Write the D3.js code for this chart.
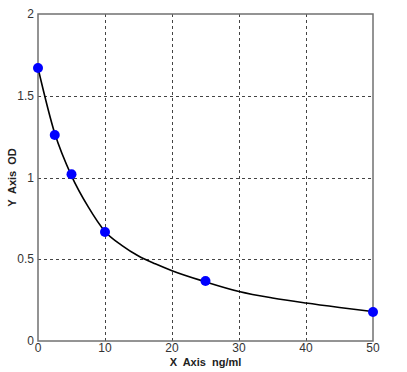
<!DOCTYPE html>
<html lang="en">
<head>
    <meta charset="UTF-8">
    <title>Standard Curve</title>
    <script src="https://d3js.org/d3.v7.min.js"></script>
    <style>
        body { margin: 0; background: #fff; }
        #canvas { display: block; }
        .tick-label { font-family: "Liberation Sans", Arial, sans-serif; font-size: 12px; fill: #333; }
        .axis-title { font-family: "Liberation Sans", Arial, sans-serif; font-size: 11px; font-weight: bold; fill: #222; }
    </style>
</head>
<body>
<svg id="canvas" width="407" height="372"></svg>
<script>
    // measured standards
    let conc = [0, 2.5, 5, 10, 25, 50];
    let od = [1.67, 1.26, 1.02, 0.667, 0.367, 0.177];

    // fitted curve
    let curveX = [0, 2.5, 5, 7.5, 10, 12.5, 15, 17.5, 20, 25, 30, 35, 40, 45, 50];
    let curveY = [1.67, 1.27, 1.01, 0.82, 0.67, 0.585, 0.52, 0.472, 0.43, 0.362, 0.303, 0.263, 0.232, 0.205, 0.18];

    let xTicks = [0, 10, 20, 30, 40, 50];
    let yTicks = [0.5, 1, 1.5, 2];

    let svg = d3.select('#canvas');

    let x = d3.scaleLinear().domain([0, 50]).range([38, 373]);
    let y = d3.scaleLinear().domain([0, 2]).range([341, 14]);

    // grid
    let grid = svg.append('g')
        .attr('stroke', '#444')
        .attr('stroke-width', 1)
        .attr('stroke-dasharray', '3,3')
        .attr('shape-rendering', 'crispEdges');

    grid.selectAll('line.gx')
        .data(xTicks.filter(d => d > 0 && d < 50))
        .enter().append('line')
        .attr('class', 'gx')
        .attr('x1', d => Math.round(x(d)) + 0.5)
        .attr('x2', d => Math.round(x(d)) + 0.5)
        .attr('y1', y(2))
        .attr('y2', y(0));

    grid.selectAll('line.gy')
        .data(yTicks.filter(d => d < 2))
        .enter().append('line')
        .attr('class', 'gy')
        .attr('y1', d => Math.round(y(d)) + 0.5)
        .attr('y2', d => Math.round(y(d)) + 0.5)
        .attr('x1', x(0))
        .attr('x2', x(50));

    // frame
    svg.append('rect')
        .attr('x', x(0))
        .attr('y', y(2))
        .attr('width', x(50) - x(0))
        .attr('height', y(0) - y(2))
        .attr('fill', 'none')
        .attr('stroke', '#707070')
        .attr('stroke-width', 1.5);

    // tick labels
    svg.selectAll('text.xt')
        .data(xTicks)
        .enter().append('text')
        .attr('class', 'tick-label')
        .attr('x', d => x(d))
        .attr('y', 352)
        .attr('text-anchor', 'middle')
        .text(d => d);

    svg.selectAll('text.yt')
        .data([0].concat(yTicks))
        .enter().append('text')
        .attr('class', 'tick-label')
        .attr('x', 34)
        .attr('y', d => y(d) + 4)
        .attr('text-anchor', 'end')
        .text(d => d);

    // axis titles
    svg.append('text')
        .attr('class', 'axis-title')
        .attr('x', (x(0) + x(50)) / 2)
        .attr('y', 366)
        .attr('text-anchor', 'middle')
        .attr('word-spacing', '3px')
        .text('X  Axis ng/ml');

    svg.append('text')
        .attr('class', 'axis-title')
        .attr('transform', 'translate(16,' + (y(0) + y(2)) / 2 + ') rotate(-90)')
        .attr('text-anchor', 'middle')
        .attr('word-spacing', '3px')
        .text('Y  Axis OD');

    // fitted line
    let line = d3.line()
        .x((d, i) => x(d))
        .y((d, i) => y(curveY[i]))
        .curve(d3.curveMonotoneX);

    svg.append('path')
        .datum(curveX)
        .attr('d', line)
        .attr('fill', 'none')
        .attr('stroke', '#000')
        .attr('stroke-width', 1.6);

    // points
    svg.selectAll('circle')
        .data(conc)
        .enter().append('circle')
        .attr('cx', d => x(d))
        .attr('cy', (d, i) => y(od[i]))
        .attr('r', 5)
        .attr('fill', '#0000ff');
</script>
</body>
</html>
